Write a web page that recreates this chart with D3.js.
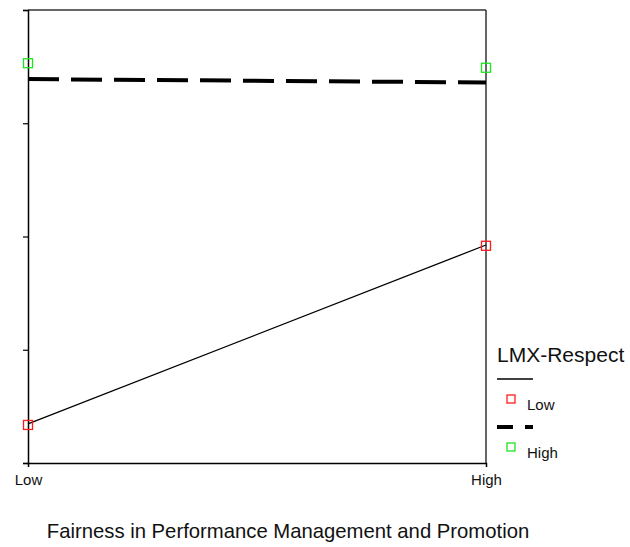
<!DOCTYPE html>
<html>
<head>
<meta charset="utf-8">
<script src="https://cdnjs.cloudflare.com/ajax/libs/d3/7.8.5/d3.min.js"></script>
<style>
  body { margin: 0; background: #fff; }
  text { font-family: "Liberation Sans", Arial, sans-serif; fill: #111; }
</style>
</head>
<body>
<div id="chart"></div>
<script>
// svg sizes
var svgWidth = 630;
var svgHeight = 547;

// margins for the plot area
var margin = { top: 10, right: 144, bottom: 84, left: 28 };
var width = svgWidth - margin.left - margin.right;
var height = svgHeight - margin.top - margin.bottom;

// data
var xCategories = ["Low", "High"];
var yTicks = [1, 2, 3, 4, 5];
var seriesNames = ["Low", "High"];
var lowLine = [1.345, 2.925];      // fitted line, low LMX-Respect
var highLine = [4.39, 4.36];       // fitted line, high LMX-Respect
var lowMeans = [1.336, 2.918];     // observed means, low LMX-Respect
var highMeans = [4.53, 4.49];      // observed means, high LMX-Respect

var svg = d3.select("#chart")
  .append("svg")
  .attr("width", svgWidth)
  .attr("height", svgHeight);

var chartGroup = svg.append("g")
  .attr("transform", `translate(${margin.left}, ${margin.top})`);

// scales
var xScale = d3.scalePoint()
  .domain(xCategories)
  .range([0, width]);

var yScale = d3.scaleLinear()
  .domain([1, 5])
  .range([height, 0]);

// frame on top and right
chartGroup.append("line")
  .attr("x1", 0).attr("x2", width)
  .attr("y1", 0).attr("y2", 0)
  .attr("stroke", "#333").attr("stroke-width", 1.5);
chartGroup.append("line")
  .attr("x1", width).attr("x2", width)
  .attr("y1", 0).attr("y2", height)
  .attr("stroke", "#333").attr("stroke-width", 1.5);

// left axis, ticks but no labels
var leftAxis = d3.axisLeft(yScale)
  .tickValues(yTicks)
  .tickSize(5)
  .tickFormat("");
var yAxis = chartGroup.append("g").call(leftAxis);
yAxis.select(".domain").attr("stroke", "#000").attr("stroke-width", 1.5);
yAxis.selectAll(".tick line").attr("stroke", "#000").attr("stroke-width", 1.2);

// bottom axis
var bottomAxis = d3.axisBottom(xScale).tickSize(4).tickPadding(7);
var xAxis = chartGroup.append("g")
  .attr("transform", `translate(0, ${height})`)
  .call(bottomAxis);
xAxis.select(".domain").attr("stroke", "#000").attr("stroke-width", 1.5);
xAxis.selectAll(".tick line")
  .attr("stroke", "#000")
  .attr("y2", d => d === "High" ? 0 : 4);
xAxis.selectAll(".tick text")
  .attr("font-size", "15px")
  .attr("font-family", "Liberation Sans, Arial, sans-serif")
  .attr("fill", "#111");

// x axis title
svg.append("text")
  .attr("x", 288)
  .attr("y", 538)
  .attr("text-anchor", "middle")
  .attr("font-size", "20.3px")
  .text("Fairness in Performance Management and Promotion");

// lines
var lineGen = d3.line()
  .x((d, i) => xScale(xCategories[i]))
  .y(d => yScale(d));

chartGroup.append("path")
  .datum(lowLine)
  .attr("d", lineGen)
  .attr("fill", "none")
  .attr("stroke", "#000")
  .attr("stroke-width", 1.3);

chartGroup.append("path")
  .datum(highLine)
  .attr("d", lineGen)
  .attr("fill", "none")
  .attr("stroke", "#000")
  .attr("stroke-width", 4)
  .attr("stroke-dasharray", "31,12");

// square markers for the means
function drawMarkers(values, color) {
  chartGroup.selectAll(null)
    .data(values)
    .enter()
    .append("rect")
    .attr("x", (d, i) => xScale(xCategories[i]) - 4.5)
    .attr("y", d => yScale(d) - 4.5)
    .attr("width", 9)
    .attr("height", 9)
    .attr("fill", "none")
    .attr("stroke", color)
    .attr("stroke-width", 1.3);
}
drawMarkers(lowMeans, "#ff1a1a");
drawMarkers(highMeans, "#1ee61e");

// legend
var legend = svg.append("g").attr("transform", "translate(497, 0)");
legend.append("text")
  .attr("x", 0).attr("y", 362)
  .attr("font-size", "21px")
  .text("LMX-Respect");

var legendItems = [
  { name: seriesNames[0], dash: null, width: 1.3, color: "#ff1a1a", y: 379 },
  { name: seriesNames[1], dash: "16,12", width: 4, color: "#1ee61e", y: 427 }
];

legendItems.forEach(function(item) {
  legend.append("line")
    .attr("x1", 0).attr("x2", 36)
    .attr("y1", item.y).attr("y2", item.y)
    .attr("stroke", "#000")
    .attr("stroke-width", item.width)
    .attr("stroke-dasharray", item.dash);
  legend.append("rect")
    .attr("x", 10).attr("y", item.y + 16)
    .attr("width", 8).attr("height", 8)
    .attr("fill", "none")
    .attr("stroke", item.color)
    .attr("stroke-width", 1.3);
  legend.append("text")
    .attr("x", 30).attr("y", item.y + 31)
    .attr("font-size", "15px")
    .text(item.name);
});
</script>
</body>
</html>
